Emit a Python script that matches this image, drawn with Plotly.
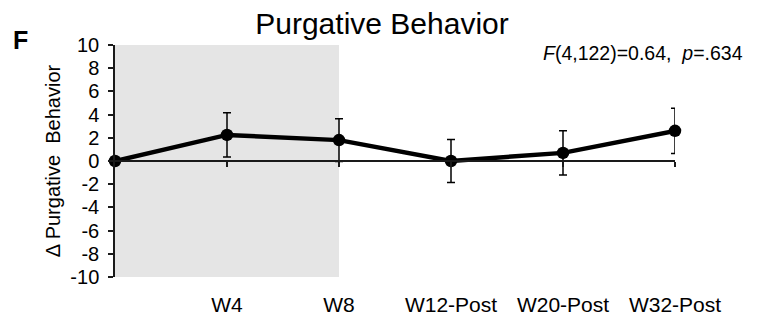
import plotly.graph_objects as go

# ---- data ----
categories = ["Baseline", "W4", "W8", "W12-Post", "W20-Post", "W32-Post"]
tick_labels = ["W4", "W8", "W12-Post", "W20-Post", "W32-Post"]
delta_values = [0.0, 2.25, 1.8, 0.0, 0.7, 2.6]
error_values = [0.0, 1.9, 1.85, 1.85, 1.9, 1.95]
y_ticks = [-10, -8, -6, -4, -2, 0, 2, 4, 6, 8, 10]
y_tick_labels = ["-10", "-8", "-6", "-4", "-2", "0", "2", "4", "6", "8", "10"]
y_range = [-10, 10]
shaded_start = "Baseline"
shaded_end = "W8"
stats_text = "<i>F</i>(4,122)=0.64,\u00a0 <i>p</i>=.634"
title_text = "Purgative Behavior"
panel_label = "F"
y_title = "\u0394 Purgative\u00a0 Behavior"

xs = list(range(len(categories)))
x_range = [xs[0], xs[-1]]

FONT = "Liberation Sans, Arial, sans-serif"
AX = "#1a1a1a"

# the page body has an 8px margin, so the figure is drawn 8px in from the corner
OFF = 8
W, H = 764 - OFF, 320 - OFF
ML, MR, MT, MB = 115 - OFF, 764 - 675, 45 - OFF, 320 - 277
PW, PH = W - ML - MR, H - MT - MB


def px_to_paper_x(px):
    return (px - OFF - ML) / PW


def px_to_paper_y(py):
    return (MT + PH - (py - OFF)) / PH


fig = go.Figure()

# invisible trace so that the zero-line axis (x2) is rendered
fig.add_trace(go.Scatter(
    x=xs, y=delta_values, xaxis="x2", yaxis="y",
    mode="markers", marker=dict(opacity=0), hoverinfo="skip", showlegend=False,
))

fig.add_trace(go.Scatter(
    x=xs, y=delta_values,
    mode="lines+markers",
    line=dict(color="black", width=4.5),
    marker=dict(size=12.5, color="black"),
    error_y=dict(type="data", array=error_values, visible=True,
                 color="black", thickness=1.5, width=4),
    cliponaxis=False,
    showlegend=False,
))

fig.add_shape(
    type="rect", xref="x", yref="y",
    x0=categories.index(shaded_start), x1=categories.index(shaded_end),
    y0=y_range[0], y1=y_range[1],
    fillcolor="#e5e5e5", line=dict(width=0), layer="below",
)

fig.update_layout(
    template="none",
    width=W, height=H,
    margin=dict(l=ML, r=MR, t=MT, b=MB, pad=0, autoexpand=False),
    plot_bgcolor="white", paper_bgcolor="white",
    font=dict(family=FONT, color="black"),
    title=dict(text=title_text, font=dict(size=30, family=FONT, color="black"),
               x=(382 - OFF) / W, xref="container", xanchor="center",
               y=1 - (23 - OFF) / H, yref="container", yanchor="middle"),
    xaxis=dict(
        automargin=False,
        range=x_range, tickmode="array", tickvals=xs[1:], ticktext=tick_labels,
        showline=False, showgrid=False, zeroline=False,
        ticks="outside", ticklen=9, tickcolor="rgba(0,0,0,0)",
        tickfont=dict(size=21, family=FONT, color="black"),
    ),
    xaxis2=dict(
        automargin=False,
        overlaying="x", anchor="free", position=0.5,
        range=x_range, tickmode="array", tickvals=xs[1:],
        showticklabels=False, showline=True, linecolor=AX, linewidth=1.5,
        ticks="outside", ticklen=5, tickwidth=1.5, tickcolor=AX,
        showgrid=False, zeroline=False,
    ),
    yaxis=dict(
        automargin=False,
        range=y_range, tickmode="array", tickvals=y_ticks, ticktext=y_tick_labels,
        showline=True, linecolor=AX, linewidth=1.5,
        ticks="outside", ticklen=5, tickwidth=1.5, tickcolor=AX,
        ticklabelstandoff=5,
        showgrid=False, zeroline=False,
        tickfont=dict(size=20, family=FONT, color="black"),
        title=dict(text=y_title, font=dict(size=20, family=FONT, color="black"),
                   standoff=4),
    ),
    annotations=[
        dict(text="<b>%s</b>" % panel_label, xref="paper", yref="paper",
             x=px_to_paper_x(20), y=px_to_paper_y(40),
             xanchor="center", yanchor="middle", showarrow=False,
             font=dict(size=25, family=FONT, color="black")),
        dict(text=stats_text, xref="paper", yref="paper",
             x=px_to_paper_x(745), y=px_to_paper_y(53),
             xanchor="right", yanchor="middle", showarrow=False,
             font=dict(size=19.5, family=FONT, color="black")),
    ],
)

fig.write_html("out.html")
